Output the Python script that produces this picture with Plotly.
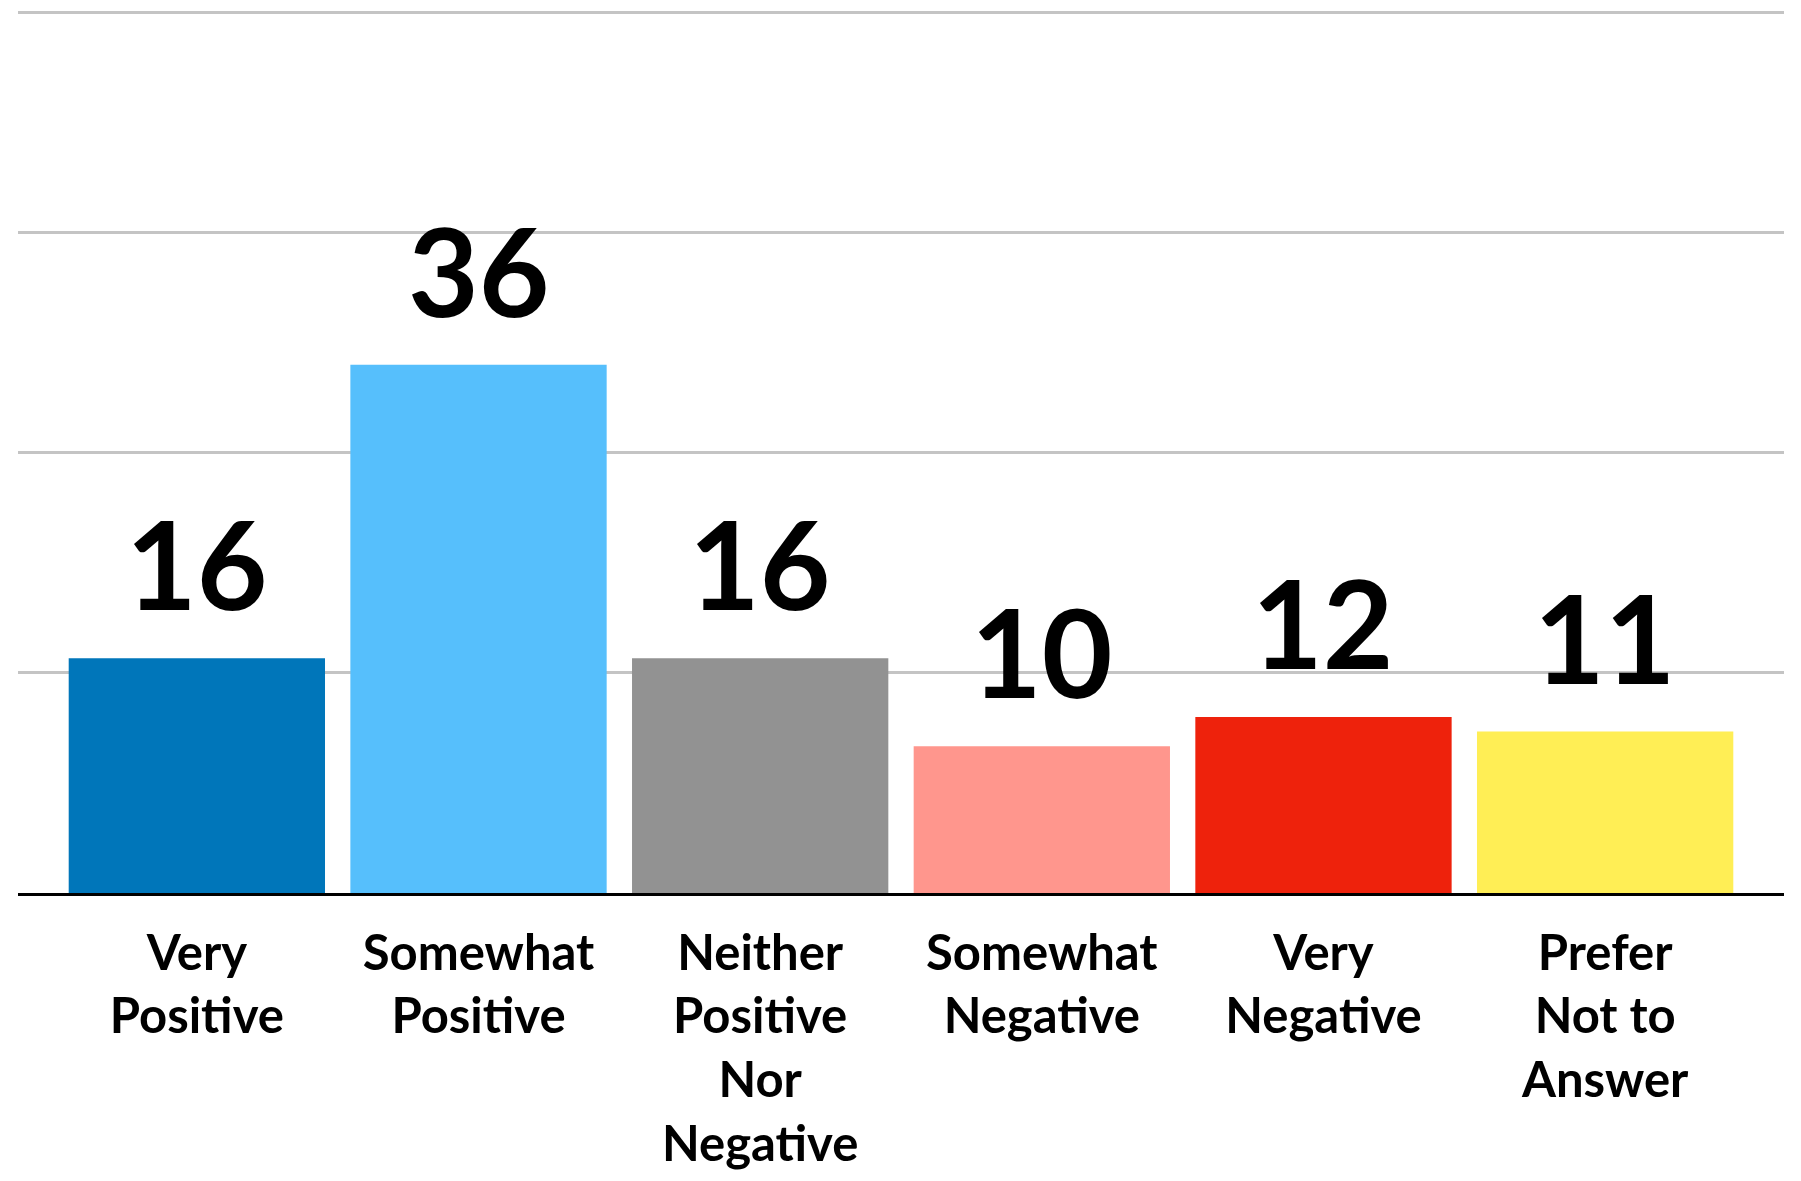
import plotly.graph_objects as go

categories = ["Very<br>Positive", "Somewhat<br>Positive", "Neither<br>Positive<br>Nor<br>Negative",
              "Somewhat<br>Negative", "Very<br>Negative", "Prefer<br>Not to<br>Answer"]
values = [16, 36, 16, 10, 12, 11]
colors = ["#0076BA", "#56BFFC", "#929292", "#FF968D", "#EE220C", "#FFEE55"]
y_ticks = [0, 15, 30, 45, 60]

fig = go.Figure()
fig.add_trace(go.Bar(
    x=list(range(len(categories))), y=values,
    marker=dict(color=colors, line=dict(width=0)),
    width=0.91, hoverinfo="skip",
))

for i, v in enumerate(values):
    fig.add_annotation(x=i, y=v, text=str(v), showarrow=False,
                       yanchor="bottom", yshift=20,
                       font=dict(family="Lato", size=122, color="#000000", weight="bold"))

fig.update_layout(
    width=1785, height=1165,
    margin=dict(l=10, r=9, t=0, b=280),
    paper_bgcolor="white", plot_bgcolor="white",
    showlegend=False,
    font=dict(family="Lato", color="#000000"),
)
fig.update_xaxes(
    range=[-0.635, 5.635], automargin=False,
    tickmode="array", tickvals=list(range(len(categories))), ticktext=categories,
    tickfont=dict(family="Lato", size=49, color="#000000", weight="bold"),
    showline=True, linecolor="#000000", linewidth=2.5,
    showgrid=False, zeroline=False, ticks="", ticklabelstandoff=15,
    fixedrange=True,
)
fig.update_yaxes(
    range=[0, 60.3], tickmode="array", tickvals=y_ticks, automargin=False,
    showticklabels=False, showgrid=True, gridcolor="#C4C4C4", gridwidth=2.5,
    zeroline=False, showline=False, fixedrange=True,
)

fig.write_html("out.html", config={"displayModeBar": False})
